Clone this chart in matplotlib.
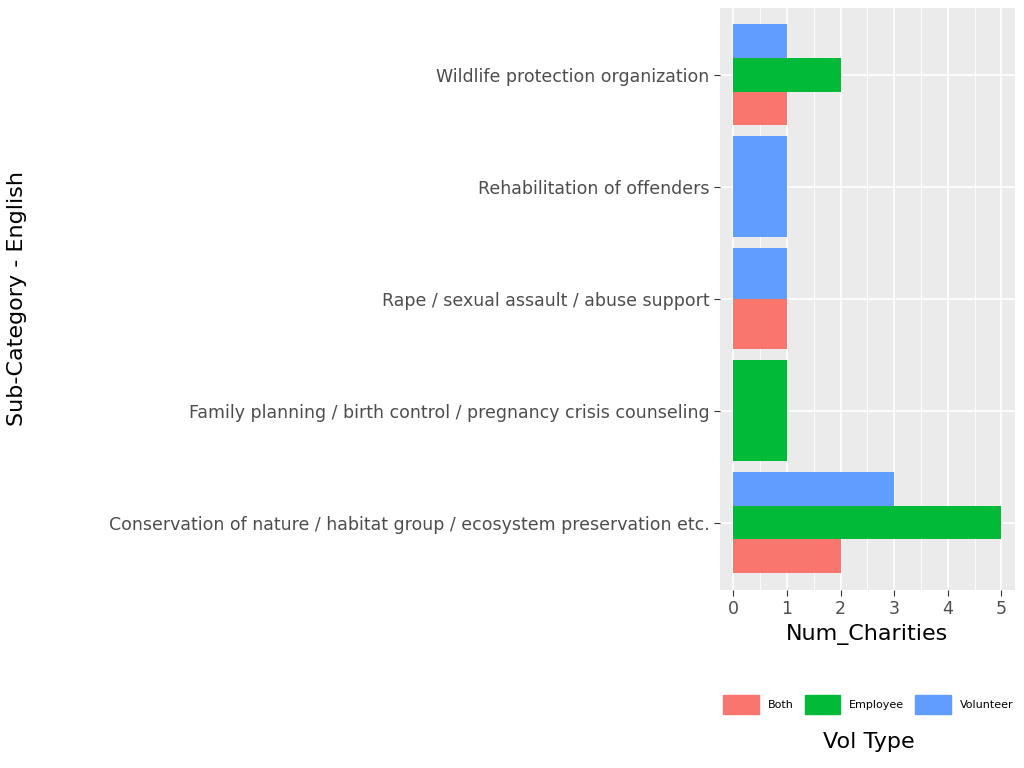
import numpy as np
import matplotlib.pyplot as plt
from matplotlib.patches import Patch

categories = ["Conservation of nature / habitat group / ecosystem preservation etc.",
              "Family planning / birth control / pregnancy crisis counseling",
              "Rape / sexual assault / abuse support",
              "Rehabilitation of offenders",
              "Wildlife protection organization"]
types = ["Both", "Employee", "Volunteer"]
colors = {"Both": "#F8766D", "Employee": "#00BA38", "Volunteer": "#619CFF"}
values = {
    categories[0]: {"Both": 2, "Employee": 5, "Volunteer": 3},
    categories[1]: {"Employee": 1},
    categories[2]: {"Both": 1, "Volunteer": 1},
    categories[3]: {"Volunteer": 1},
    categories[4]: {"Both": 1, "Employee": 2, "Volunteer": 1},
}

fig = plt.figure(figsize=(10.24, 7.68), dpi=100)
ax = fig.add_axes([0.703, 0.232, 0.288, 0.758])
ax.set_facecolor("#EBEBEB")
for s in ax.spines.values():
    s.set_visible(False)

width = 0.9
for i, cat in enumerate(categories):
    present = [t for t in types if t in values[cat]]
    n = len(present)
    h = width / n
    for j, t in enumerate(present):
        y = i - width / 2 + h * (j + 0.5)
        ax.barh(y, values[cat][t], height=h, color=colors[t], zorder=3)

ax.set_xlim(-0.25, 5.25)
ax.set_ylim(-0.6, 4.6)
ax.set_xticks(range(6))
ax.set_xticks(np.arange(0.5, 5, 1), minor=True)
ax.set_yticks(range(len(categories)))
ax.set_yticklabels(categories)
ax.grid(True, which="major", color="white", linewidth=1.2, zorder=0)
ax.grid(True, which="minor", axis="x", color="white", linewidth=0.6, zorder=0)
ax.tick_params(axis="both", which="major", labelsize=12.5, labelcolor="#4D4D4D",
               color="#333333", length=4)
ax.tick_params(which="minor", length=0)
ax.set_xlabel("Num_Charities", fontsize=16)
ax.set_ylabel("Sub-Category - English", fontsize=16)
ax.yaxis.set_label_coords(-2.35, 0.5)

handles = [Patch(color=colors[t], label=t) for t in types]
fig.legend(handles=handles, loc="center", bbox_to_anchor=(0.848, 0.083), ncol=3,
           frameon=False, fontsize=8, handlelength=3.2, handleheight=2.2,
           columnspacing=1.0, handletextpad=0.8)
fig.text(0.848, 0.034, "Vol Type", ha="center", va="center", fontsize=16)

fig.savefig("out.png", dpi=100)
